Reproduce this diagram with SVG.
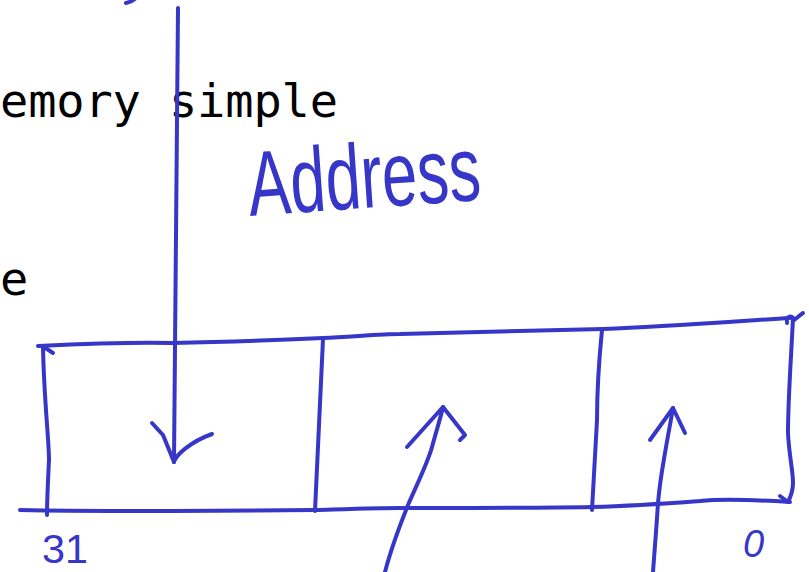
<svg xmlns="http://www.w3.org/2000/svg" width="809" height="572" viewBox="0 0 809 572">
<style>
.ink{fill:none;stroke:#3636c8;stroke-width:4;stroke-linecap:round;stroke-linejoin:round}
.mono{font-family:"DejaVu Sans Mono","Liberation Mono",monospace;font-size:47px;fill:#000}
.hand{font-family:"Liberation Sans","DejaVu Sans",sans-serif;fill:#3636c8}
</style>
<rect width="809" height="572" fill="#fff"/>
<g id="printed-text">
<text class="mono" x="0" y="117" textLength="338" lengthAdjust="spacing">emory simple</text>
<text class="mono" x="0" y="295">e</text>
</g>
<g id="register" class="ink">
<path d="M38 346 C80 344 130 342 172 343 C230 342 280 340 323 338 C350 337 380 334 400 334 C470 332 540 331 603 329 C670 326 740 321 790 318"/>
<path d="M20 510 C60 511 120 511 172 511 C230 511 280 510 315 510 C350 509 380 508 400 508 C470 508 540 508 592 507 C630 506 660 504 700 501 C720 499 740 499 790 502"/>
<path d="M43 347 C44 400 49 440 49 460 C48 480 47 500 47 515"/>
<path d="M44 347 L53 353"/>
<path d="M323 339 C320 400 317 460 315 511"/>
<path d="M602 330 C599 360 597 390 597 420 C595 460 593 490 592 510"/>
<path d="M793 318 C791 360 788 400 788 433 C789 455 793 470 793 483 C793 492 790 498 788 502"/>
<path d="M787 323 C786 316 792 314 794 320 C797 318 800 315 803 313"/>
<path d="M780 496 L788 502"/>
</g>
<g id="connectors" class="ink">
<path d="M178 8 C176 150 175 300 174 462"/>
<path d="M152 423 L163 435 L174 462"/>
<path d="M174 462 C176 455 190 442 212 434"/>
<path d="M385 572 C392 545 400 525 408 505 C418 482 428 462 432 447 C436 432 440 420 443 407"/>
<path d="M407 447 L443 407 L465 435 L460 440"/>
<path d="M653 572 C655 545 657 520 658 503 C660 480 663 465 665 453 C668 435 671 420 673 408"/>
<path d="M650 440 L673 408 L685 433"/>
<path d="M126 3 C131 2 134 0 136 -2"/>
</g>
<g id="labels">
<text class="hand" x="250" y="216" font-size="92" textLength="233" lengthAdjust="spacingAndGlyphs" transform="rotate(-4 250 216)">Address</text>
<text class="hand" x="42" y="563" font-size="40" textLength="46" lengthAdjust="spacingAndGlyphs">31</text>
<text class="hand" x="743" y="557" font-size="38" font-style="italic">0</text>
</g>
</svg>
